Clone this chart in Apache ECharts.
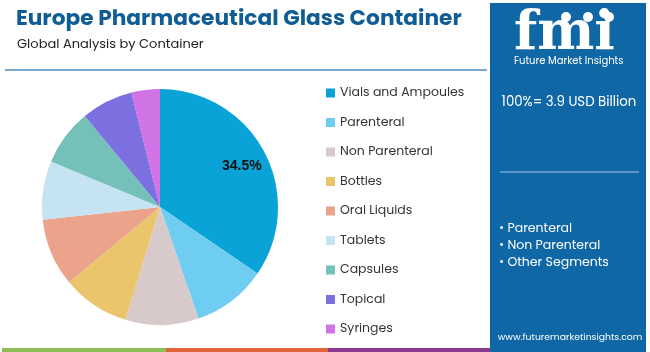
<!DOCTYPE html>
<html>
<head>
<meta charset="utf-8">
<script src="https://cdn.jsdelivr.net/npm/echarts@6/dist/echarts.min.js"></script>
<style>
  html, body { margin: 0; padding: 0; background: #fff; }
  #chart { width: 650px; height: 352px; }
</style>
</head>
<body>
<div id="chart"></div>
<script>
// 세그먼트 이름과 점유율(%)
const categories = ['Vials and Ampoules', 'Parenteral', 'Non Parenteral', 'Bottles', 'Oral Liquids', 'Tablets', 'Capsules', 'Topical', 'Syringes'];
const shares = [34.5, 10.2, 10.0, 9.25, 9.3, 8.0, 7.7, 7.1, 3.9];
const colors = ['#0AA3D8', '#6FCDF1', '#D8CACA', '#EBC56B', '#EBA38B', '#C5E3F2', '#73C1B8', '#7C70E1', '#CF73E5'];
const sideBullets = ['• Parenteral', '• Non Parenteral', '• Other Segments'];

const chart = echarts.init(document.getElementById('chart'));

const font = 'Poppins, Inter, "Open Sans", sans-serif';

const options = {
    animation: false,
    color: colors,
    title: [
        {
            text: 'Europe Pharmaceutical Glass Container',
            left: 11,
            top: 4,
            textStyle: { fontSize: 21.7, fontWeight: 'bold', color: '#105D95', fontFamily: font }
        },
        {
            text: 'Global Analysis by Container',
            left: 12,
            top: 33,
            textStyle: { fontSize: 13, fontWeight: 'normal', color: '#222', fontFamily: font }
        }
    ],
    legend: {
        orient: 'vertical',
        left: 321,
        top: 80,
        icon: 'rect',
        itemWidth: 9,
        itemHeight: 9,
        itemGap: 13.5,
        textStyle: { fontSize: 12.5, color: '#333', fontFamily: font, lineHeight: 16 },
        data: categories
    },
    graphic: [
        // 제목 아래 구분선
        { type: 'line', shape: { x1: 5, y1: 70, x2: 487, y2: 70 }, style: { stroke: '#4B8FC6', lineWidth: 1.5 } },
        // 하단 컬러 바
        { type: 'rect', shape: { x: 2, y: 348, width: 164, height: 4 }, style: { fill: '#8DBE55' } },
        { type: 'rect', shape: { x: 166, y: 348, width: 162, height: 4 }, style: { fill: '#E2643A' } },
        { type: 'rect', shape: { x: 328, y: 348, width: 162, height: 4 }, style: { fill: '#8A3A8E' } },
        // 오른쪽 패널
        { type: 'rect', shape: { x: 490, y: 3, width: 156, height: 349 }, style: { fill: '#0F67A6' } },
        { type: 'text', left: 514, top: 8, style: { text: 'fmi', fill: '#fff', font: 'bold 54px "DejaVu Serif", serif' } },
        { type: 'circle', shape: { cx: 566, cy: 17, r: 5 }, style: { fill: '#fff' } },
        { type: 'circle', shape: { cx: 588, cy: 17, r: 5 }, style: { fill: '#fff' } },
        { type: 'circle', shape: { cx: 609, cy: 17, r: 5 }, style: { fill: '#fff' } },
        { type: 'text', left: 514, top: 56, style: { text: 'Future Market Insights', fill: '#fff', font: '10px ' + font } },
        { type: 'text', x: 569, y: 103, style: { text: '100%= 3.9 USD Billion', fill: '#fff', font: '13.3px ' + font, align: 'center', verticalAlign: 'middle' } },
        { type: 'line', shape: { x1: 500, y1: 172, x2: 639, y2: 172 }, style: { stroke: '#A9C8E4', lineWidth: 1 } },
        { type: 'text', x: 499, y: 229, style: { text: sideBullets[0], fill: '#fff', font: '12.5px ' + font, verticalAlign: 'middle' } },
        { type: 'text', x: 499, y: 246, style: { text: sideBullets[1], fill: '#fff', font: '12.5px ' + font, verticalAlign: 'middle' } },
        { type: 'text', x: 499, y: 263, style: { text: sideBullets[2], fill: '#fff', font: '12.5px ' + font, verticalAlign: 'middle' } },
        { type: 'text', x: 570, y: 338, style: { text: 'www.futuremarketinsights.com', fill: '#fff', font: '9.3px ' + font, align: 'center', verticalAlign: 'middle' } }
    ],
    series: [
        {
            type: 'pie',
            center: [160, 207],
            radius: 118,
            startAngle: 90,
            clockwise: true,
            silent: true,
            label: { show: false },
            labelLine: { show: false },
            data: categories.map((name, i) => ({
                name: name,
                value: shares[i],
                label: i === 0 ? {
                    show: true,
                    position: 'inside',
                    offset: [27, -12],
                    formatter: '{c}%',
                    fontSize: 14,
                    fontWeight: 'bold',
                    color: '#111',
                    fontFamily: 'Liberation Sans, Arial, sans-serif'
                } : { show: false }
            }))
        }
    ]
};

chart.setOption(options);
</script>
</body>
</html>
